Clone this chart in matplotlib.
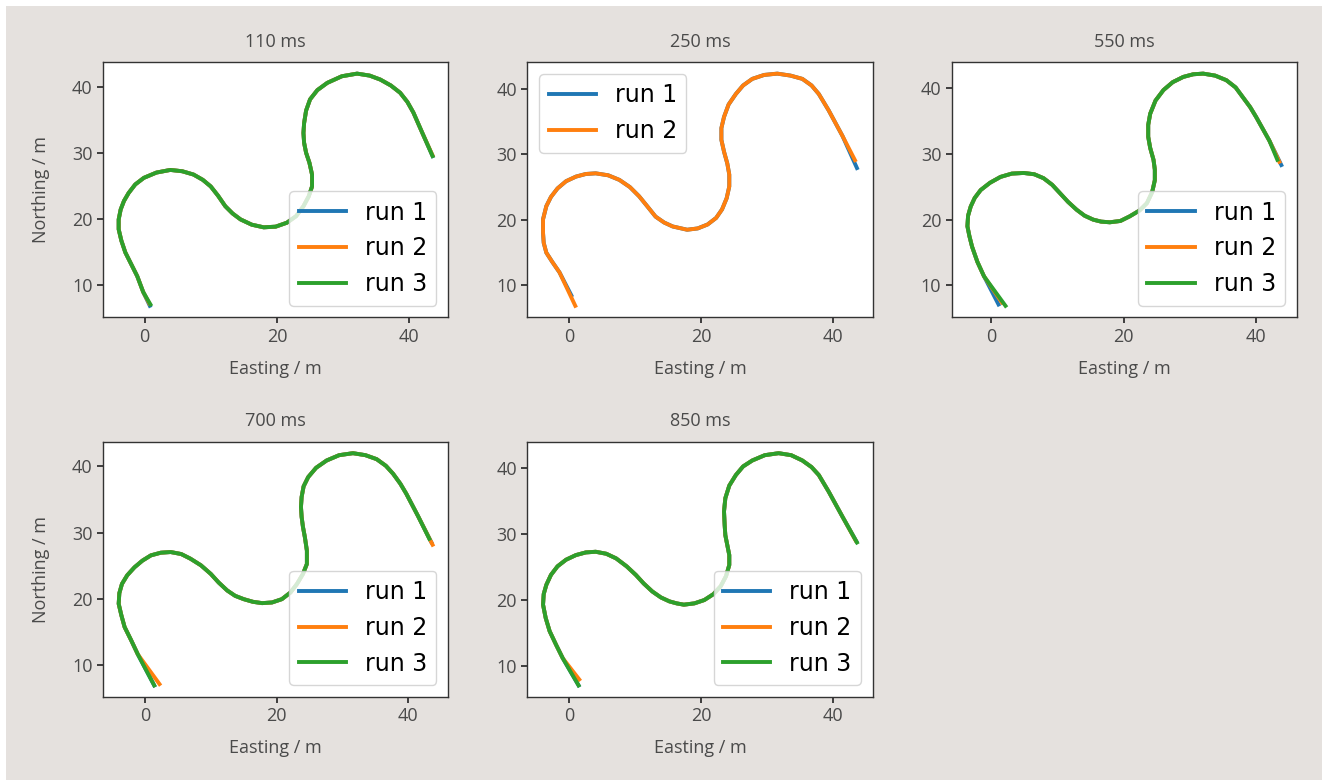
import matplotlib
matplotlib.use('Agg')
import matplotlib.pyplot as plt
from matplotlib.patches import Rectangle

plt.rcParams['font.family'] = ['Open Sans', 'DejaVu Sans']
plt.rcParams['font.size'] = 13

titles = ['110 ms', '250 ms', '550 ms', '700 ms', '850 ms']
run_names = ['run 1', 'run 2', 'run 3']
legend_locs = ['lower right', 'upper left', 'lower right', 'lower right', 'lower right']

# shared section of the track in each panel (easting / northing in m)
e_110 = [-0.2, -1.1, -2.0, -2.9, -3.5, -3.9, -3.9, -3.6, -3.1, -2.4, -1.4, -0.1, 1.8, 3.9, 5.7,
         7.4, 8.8, 10.0, 11.1, 12.2, 13.3, 14.5, 16.2, 18.0, 19.8, 21.5, 22.9, 24.0, 24.8, 25.3,
         25.3, 24.9, 24.4, 24.1, 24.0, 24.1, 24.4, 25.0, 26.1, 27.6, 29.8, 32.1, 34.0, 35.6, 37.2,
         38.6, 39.7, 40.6, 42.0]
n_110 = [9.0, 11.4, 13.2, 15.0, 16.8, 18.5, 20.0, 21.5, 22.8, 24.0, 25.3, 26.3, 27.1, 27.5, 27.3,
         26.8, 26.0, 25.0, 23.6, 22.0, 20.9, 20.0, 19.2, 18.8, 18.9, 19.5, 20.5, 22.0, 23.5, 25.0,
         26.8, 28.6, 30.1, 31.6, 33.1, 34.6, 36.5, 38.2, 39.6, 40.7, 41.7, 42.1, 41.8, 41.2, 40.3,
         39.2, 37.8, 36.2, 33.0]

e_250 = [-1.5, -2.6, -3.5, -3.9, -4.0, -4.0, -3.5, -2.8, -1.8, -0.5, 1.0, 2.5, 4.0, 5.9, 7.6,
         9.2, 10.6, 11.9, 13.1, 14.4, 15.7, 17.9, 19.5, 21.0, 22.3, 23.2, 23.9, 24.3, 24.3, 24.0,
         23.5, 23.1, 23.1, 23.5, 24.2, 25.3, 26.4, 27.8, 29.6, 31.6, 33.6, 35.4, 36.8, 37.9, 39.4,
         41.5]
n_250 = [12.0, 13.6, 15.0, 16.5, 18.0, 20.1, 22.1, 23.5, 24.8, 25.9, 26.6, 27.0, 27.1, 26.8, 26.1,
         25.0, 23.6, 22.0, 20.5, 19.6, 19.0, 18.5, 18.7, 19.3, 20.3, 21.6, 23.3, 25.1, 26.9, 28.6,
         30.4, 32.2, 34.0, 35.7, 37.6, 39.2, 40.5, 41.5, 42.1, 42.3, 42.0, 41.5, 40.5, 39.2, 36.7,
         32.8]

e_550 = [-1.1, -2.1, -2.9, -3.3, -3.6, -3.5, -3.1, -2.5, -1.6, -0.2, 1.4, 3.1, 4.9, 6.5, 7.9,
         9.2, 10.4, 11.6, 12.9, 14.1, 15.4, 16.6, 17.9, 19.5, 20.9, 22.4, 23.5, 24.3, 24.7, 24.7,
         24.5, 24.0, 23.7, 23.7, 24.0, 24.8, 26.0, 27.4, 29.0, 30.5, 32.0, 33.8, 35.5, 36.9, 38.0,
         39.1, 40.0, 42.0]
n_550 = [11.4, 13.6, 15.9, 17.5, 19.0, 20.6, 22.0, 23.3, 24.5, 25.6, 26.5, 27.0, 27.1, 26.9, 26.3,
         25.3, 24.0, 22.7, 21.5, 20.6, 20.0, 19.7, 19.6, 19.8, 20.5, 21.4, 22.5, 24.2, 26.0, 27.6,
         29.1, 30.9, 32.6, 34.4, 36.1, 38.1, 39.7, 40.9, 41.7, 42.1, 42.2, 41.9, 41.2, 40.1, 38.6,
         37.1, 35.6, 32.0]

e_700 = [-1.1, -2.1, -3.1, -3.6, -4.0, -3.9, -3.5, -2.7, -1.6, -0.4, 0.9, 2.4, 3.9, 5.5, 6.9,
         8.5, 10.0, 11.2, 12.5, 13.7, 15.0, 16.4, 17.8, 19.3, 20.8, 22.1, 23.1, 24.0, 24.6, 24.6,
         24.3, 24.0, 23.8, 23.7, 23.8, 24.1, 24.8, 26.0, 27.6, 29.5, 31.6, 33.5, 35.2, 36.6, 37.7,
         38.8, 39.7, 41.5]
n_700 = [11.7, 13.8, 15.8, 17.6, 19.3, 20.9, 22.3, 23.6, 24.8, 25.8, 26.6, 27.0, 27.1, 26.8, 26.1,
         25.1, 23.8, 22.5, 21.3, 20.5, 20.0, 19.6, 19.4, 19.5, 20.0, 21.0, 22.3, 23.8, 25.3, 27.3,
         29.3, 30.9, 32.4, 33.9, 35.4, 37.0, 38.4, 39.8, 40.9, 41.7, 42.0, 41.7, 41.1, 40.1, 38.9,
         37.4, 35.9, 32.5]

e_850 = [-1.0, -2.0, -3.0, -3.6, -4.0, -3.9, -3.5, -2.8, -1.8, -0.5, 1.0, 2.5, 4.0, 5.6, 7.1,
         8.7, 10.1, 11.3, 12.6, 13.9, 15.2, 16.3, 17.4, 19.0, 20.5, 21.9, 23.0, 23.8, 24.3, 24.3,
         24.0, 23.7, 23.6, 23.5, 23.7, 24.3, 25.3, 26.4, 27.8, 29.7, 31.8, 33.7, 35.4, 36.8, 37.9,
         39.4, 41.5]
n_850 = [11.2, 13.2, 15.3, 17.3, 19.3, 20.9, 22.3, 23.8, 25.1, 26.1, 26.8, 27.2, 27.3, 27.0, 26.3,
         25.1, 23.8, 22.5, 21.3, 20.4, 19.8, 19.5, 19.3, 19.5, 20.0, 20.9, 22.1, 23.6, 25.3, 26.8,
         28.3, 29.8, 31.3, 33.4, 35.4, 37.3, 38.9, 40.2, 41.1, 41.9, 42.2, 41.9, 41.1, 40.1, 38.9,
         36.4, 32.6]

track_e = [e_110, e_250, e_550, e_700, e_850]
track_n = [n_110, n_250, n_550, n_700, n_850]

# start and end points of every run, per panel
start_e = [[0.8, 0.7, 0.9], [0.3, 0.9], [1.1, 1.6, 2.15], [1.4, 2.2, 1.4], [1.4, 1.5, 1.4]]
start_n = [[6.9, 7.3, 7.1], [8.5, 6.9], [7.1, 7.4, 6.9], [7.0, 7.2, 7.0], [7.1, 8.0, 7.1]]
end_e = [[43.5, 43.5, 43.5], [43.7, 43.4], [43.8, 43.5, 43.2], [43.5, 43.7, 43.2], [43.6, 43.5, 43.7]]
end_n = [[29.6, 29.7, 29.6], [27.9, 29.1], [28.3, 28.8, 29.1], [28.6, 28.2, 29.1], [28.9, 29.0, 28.7]]

colors = ['#1f77b4', '#ff7f0e', '#2ca02c']
text_grey = '#4a4a4a'

fig, axes = plt.subplots(2, 3, figsize=(13.22, 7.8), dpi=100)
fig.patch.set_facecolor('#e5e1de')
fig.patches.append(Rectangle((0, 1 - 6 / 780), 1, 6 / 780, transform=fig.transFigure,
                             facecolor='white', edgecolor='none', zorder=-1))
fig.patches.append(Rectangle((0, 0), 6 / 1322, 1, transform=fig.transFigure,
                             facecolor='white', edgecolor='none', zorder=-1))
plt.subplots_adjust(left=0.0779, right=0.9811, top=0.9205, bottom=0.1064,
                    wspace=0.229, hspace=0.486)
axes = axes.flatten()
axes[5].remove()

for i in range(5):
    ax = axes[i]
    for r in range(len(start_e[i])):
        e = [start_e[i][r]] + track_e[i] + [end_e[i][r]]
        n = [start_n[i][r]] + track_n[i] + [end_n[i][r]]
        ax.plot(e, n, color=colors[r], lw=2.8, label=run_names[r],
                solid_joinstyle='round')
    ax.set_xticks([0, 20, 40])
    ax.set_yticks([10, 20, 30, 40])
    ax.tick_params(colors='#222222', labelcolor=text_grey, width=1.2, length=4, labelsize=13)
    for sp in ax.spines.values():
        sp.set_color('#333333')
        sp.set_linewidth(1.0)
    ax.set_title(titles[i], fontsize=13, color=text_grey, pad=11)
    ax.set_xlabel('Easting / m', fontsize=13, color=text_grey, labelpad=10)
    if i in (0, 3):
        ax.set_ylabel('Northing / m', fontsize=13, color=text_grey, labelpad=16)
    ax.legend(loc=legend_locs[i], prop={'family': 'DejaVu Sans', 'size': 17},
              labelspacing=0.5)

fig.savefig('out.png', dpi=100, facecolor=fig.get_facecolor())
